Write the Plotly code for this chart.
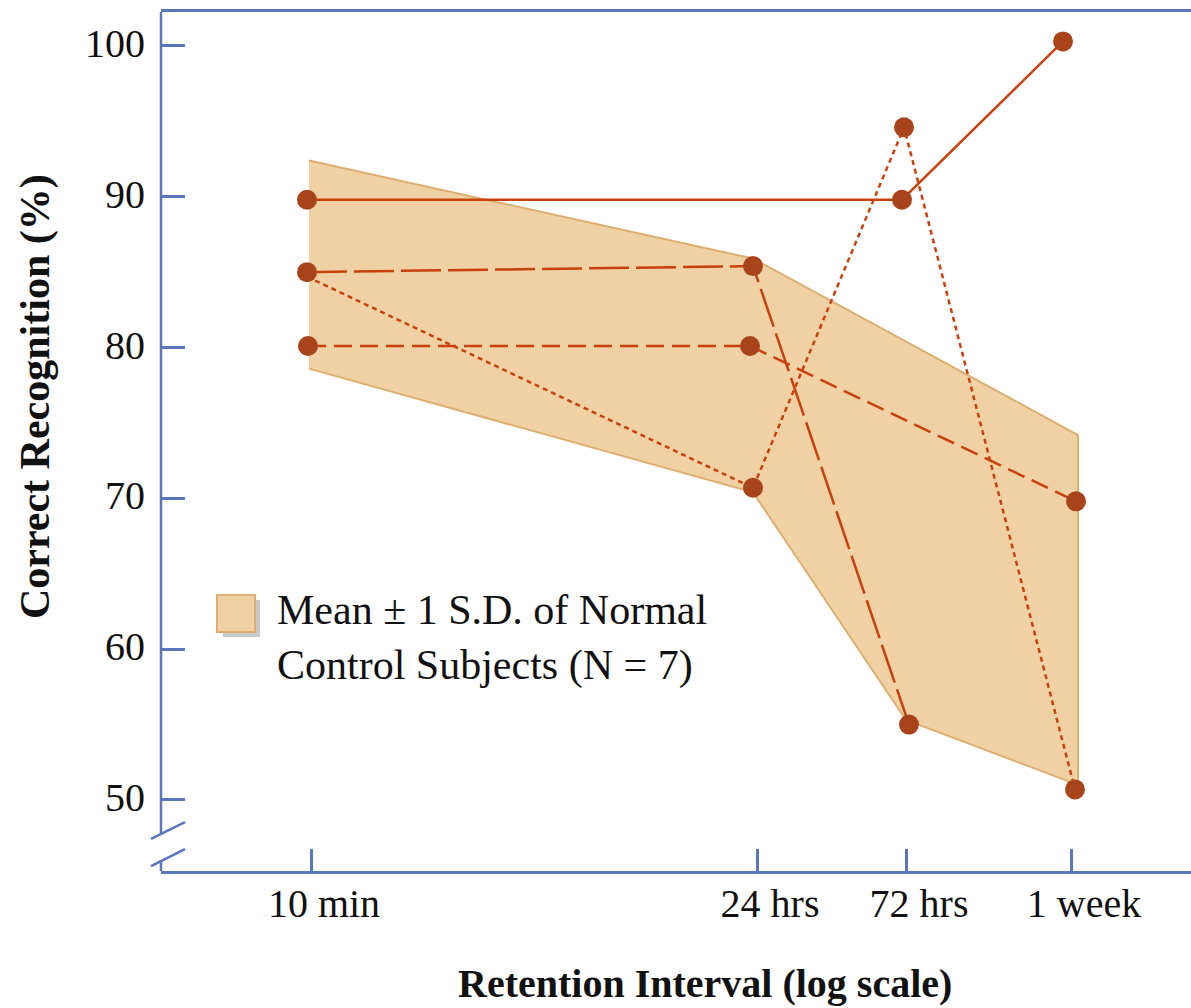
import plotly.graph_objects as go

# ---- data ----
tick_pos = [0.0, 4.46, 5.95, 7.60]           # axis positions of the retention intervals
tick_labels = ["10 min", "24 hrs", "72 hrs", "1 week"]

solid_x = [-0.04, 5.91, 7.52]
solid_y = [89.8, 89.8, 100.3]

longdash_x = [-0.04, 4.42, 5.98]
longdash_y = [85.0, 85.4, 55.0]

meddash_x = [-0.03, 4.39, 7.65]
meddash_y = [80.1, 80.1, 69.8]

dotted_x = [-0.04, 4.42, 5.93, 7.64]
dotted_y = [84.7, 70.7, 94.6, 50.7]

band_upper_x = [-0.02, 4.42, 7.67]
band_upper_y = [92.4, 85.9, 74.2]
band_lower_x = [-0.02, 4.42, 5.95, 7.67]
band_lower_y = [78.6, 70.4, 55.3, 51.0]

y_ticks = [50, 60, 70, 80, 90, 100]

# ---- styles ----
AXIS = "#5a76bd"
LINE = "#c8410d"
MARK = "#a8431a"
FILL = "#efd1a3"
EDGE = "#dcae70"
FONT = "Liberation Serif"

fig = go.Figure()

fig.add_trace(go.Scatter(
    x=band_upper_x + band_lower_x[::-1],
    y=band_upper_y + band_lower_y[::-1],
    fill="toself", fillcolor=FILL, mode="lines",
    line=dict(color=EDGE, width=2), hoverinfo="skip", showlegend=False))

series = [
    (dotted_x, dotted_y, "5px,4px", [0, 20, 20, 20]),
    (meddash_x, meddash_y, "18px,8px", 20),
    (longdash_x, longdash_y, "40px,7px", 20),
    (solid_x, solid_y, "solid", 20),
]
for xs, ys, dash, ms in series:
    fig.add_trace(go.Scatter(
        x=xs, y=ys, mode="lines+markers",
        line=dict(color=LINE, width=2.5, dash=dash),
        marker=dict(color=MARK, size=ms, opacity=1, line=dict(width=0)),
        showlegend=False))

# axis-break y axis line and legend swatch
shapes = [
    dict(type="line", xref="paper", yref="paper", x0=0, x1=0, y0=0.0431, y1=1,
         line=dict(color=AXIS, width=2.5)),
    dict(type="line", xref="paper", yref="paper", x0=0, x1=0, y0=0, y1=0.0128,
         line=dict(color=AXIS, width=2.5)),
    dict(type="line", xref="paper", yref="paper", x0=-0.0097, x1=0.0233, y0=0.0373, y1=0.0570,
         line=dict(color=AXIS, width=2.5)),
    dict(type="line", xref="paper", yref="paper", x0=-0.0097, x1=0.0233, y0=0.0058, y1=0.0256,
         line=dict(color=AXIS, width=2.5)),
    dict(type="rect", xref="paper", yref="paper", x0=0.0602, x1=0.0961, y0=0.2724, y1=0.3155,
         fillcolor="#c9c9c9", line=dict(width=0)),
    dict(type="rect", xref="paper", yref="paper", x0=0.0544, x1=0.0913, y0=0.2782, y1=0.3213,
         fillcolor=FILL, line=dict(color=EDGE, width=2)),
]

annotations = [
    dict(xref="paper", yref="paper", x=0.1107, y=0.271, xanchor="left", yanchor="middle",
         align="left", showarrow=False,
         text="Mean ± 1 S.D. of Normal<br>Control Subjects (N = 7)",
         font=dict(family=FONT, size=42, color="#111")),
    dict(xref="paper", yref="paper", x=-0.1223, y=0.5518, textangle=-90, showarrow=False,
         xanchor="center", yanchor="middle",
         text="<b>Correct Recognition (%)</b>", font=dict(family=FONT, size=42, color="#111")),
    dict(xref="paper", yref="paper", x=0.5277, y=-0.1304, showarrow=False,
         xanchor="center", yanchor="middle",
         text="<b>Retention Interval (log scale)</b>", font=dict(family=FONT, size=40, color="#111")),
]

fig.update_layout(
    width=1191, height=1008,
    margin=dict(l=161, r=0, t=12, b=137),
    paper_bgcolor="white", plot_bgcolor="white",
    shapes=shapes, annotations=annotations,
    xaxis=dict(range=[-1.5, 8.8], tickvals=tick_pos, ticktext=tick_labels,
               ticks="inside", ticklen=22, tickwidth=2.5, tickcolor=AXIS,
               showline=True, linecolor=AXIS, linewidth=2.5, mirror=True,
               showgrid=False, zeroline=False, ticklabelshift=13, ticklabelstandoff=-5,
               tickfont=dict(family=FONT, size=40, color="#111")),
    yaxis=dict(range=[45.29, 102.25], tickvals=y_ticks,
               ticks="inside", ticklen=24, tickwidth=2.5, tickcolor=AXIS,
               showline=False, showgrid=False, zeroline=False,
               ticklabelshift=-3, ticklabelstandoff=15,
               tickfont=dict(family=FONT, size=40, color="#111")),
)

fig.write_html("out.html")
